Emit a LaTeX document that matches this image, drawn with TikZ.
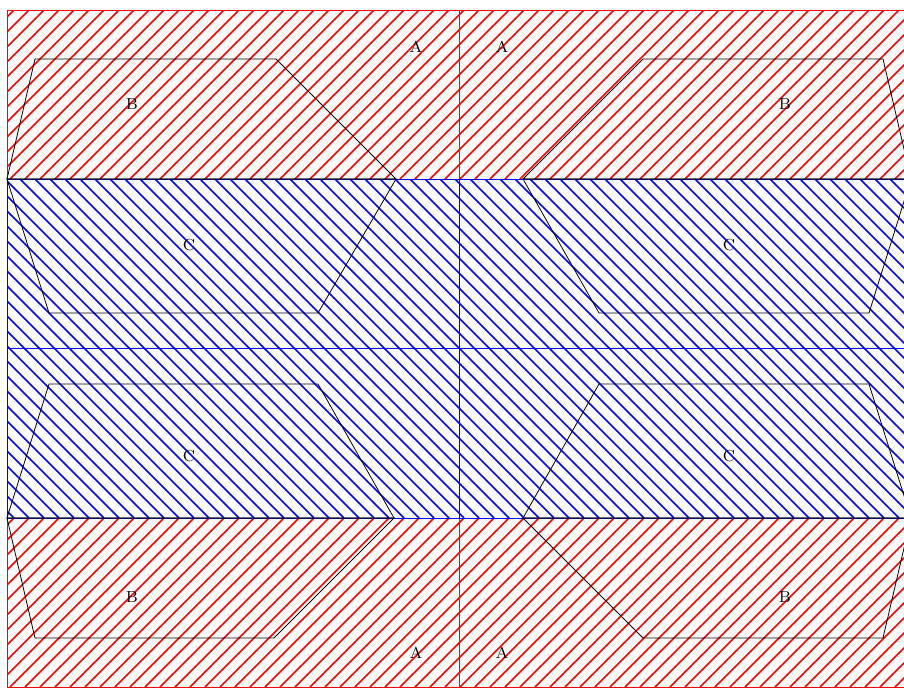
\documentclass[tikz,border=0pt]{standalone}
\usepackage{amsmath}
\usepackage{tikz}

\tikzset{
    redhatch/.style={red, line width=0.75pt},
    bluehatch/.style={blue, line width=0.75pt},
    redzone/.style={draw=red, line width=0.4pt},
    bluezone/.style={draw=blue, line width=0.4pt},
    outline/.style={draw=black, line width=0.4pt},
    tag/.style={font=\footnotesize, inner sep=0pt}
}

\begin{document}
\begin{tikzpicture}[x=0.5pt, y=-0.5pt]
                    \useasboundingbox (0,0) rectangle (904,687);
                    \clip (0,0) rectangle (904,687);
                    % Hatching
                    \begin{scope}
                        \clip (7,10) rectangle (911,179);
                        \foreach \x in {-170,-155,...,912} \draw[redhatch] (\x,179) -- ++(169,-169);
                    \end{scope}
                    \begin{scope}
                        \clip (7,518) rectangle (911,687);
                        \foreach \x in {-170,-155,...,912} \draw[redhatch] (\x,687) -- ++(169,-169);
                    \end{scope}
                    \begin{scope}
                        \clip (7,179) rectangle (911,518);
                        \foreach \x in {-340,-325,...,912} \draw[bluehatch] (\x,179) -- ++(339,339);
                    \end{scope}
                    % Regions
                    \path[redzone] (7,10) rectangle (459,179);
                    \path[redzone] (459,10) rectangle (911,179);
                    \path[redzone] (7,518) rectangle (459,687);
                    \path[redzone] (459,518) rectangle (911,687);
                    \path[bluezone] (7,179) rectangle (459,348);
                    \path[bluezone] (459,179) rectangle (911,348);
                    \path[bluezone] (7,348) rectangle (459,518);
                    \path[bluezone] (459,348) rectangle (911,518);
                    % Outlines
                    \draw[outline] (7,179) -- (35,59) -- (276,59) -- (396,179) -- cycle;
                    \draw[outline] (7,179) -- (49,313) -- (318,313) -- (396,179) -- cycle;
                    \draw[outline] (7,518) -- (49,384) -- (318,384) -- (394,518) -- cycle;
                    \draw[outline] (7,518) -- (35,638) -- (274,638) -- (394,518) -- cycle;
                    \draw[outline] (911,179) -- (883,59) -- (643,59) -- (523,179) -- cycle;
                    \draw[outline] (911,179) -- (869,313) -- (599,313) -- (523,179) -- cycle;
                    \draw[outline] (911,518) -- (869,384) -- (599,384) -- (523,518) -- cycle;
                    \draw[outline] (911,518) -- (883,638) -- (643,638) -- (523,518) -- cycle;
                    % Labels
                    \node[tag] (A1) at (416,47) {A};
                    \node[tag] (A2) at (502,47) {A};
                    \node[tag] (A3) at (416,653) {A};
                    \node[tag] (A4) at (502,653) {A};
                    \node[tag] (B1) at (132,104) {B};
                    \node[tag] (B2) at (785,104) {B};
                    \node[tag] (B3) at (132,597) {B};
                    \node[tag] (B4) at (785,597) {B};
                    \node[tag] (C1) at (189,245) {C};
                    \node[tag] (C2) at (729,245) {C};
                    \node[tag] (C3) at (189,456) {C};
                    \node[tag] (C4) at (729,456) {C};
                \end{tikzpicture}
\end{document}
